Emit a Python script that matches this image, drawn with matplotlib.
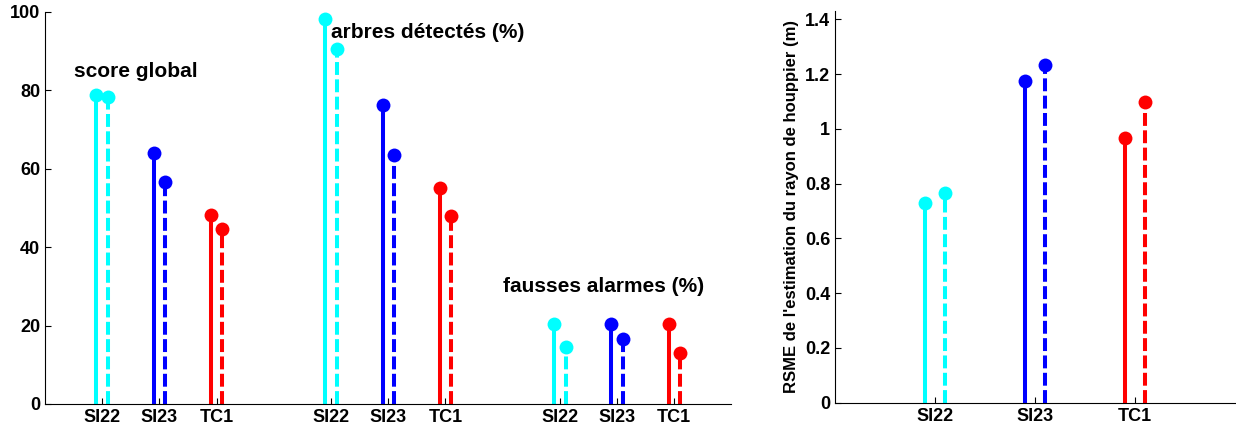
import numpy as np
import matplotlib
matplotlib.use("Agg")
import matplotlib.pyplot as plt

plt.rcParams['font.family'] = ['Liberation Sans', 'DejaVu Sans']
plt.rcParams['font.weight'] = 'bold'

# data
methods = ["SI22", "SI23", "TC1"]
colors = ["#00ffff", "#0000ff", "#ff0000"]
groups = ["score global", "arbres détectés (%)", "fausses alarmes (%)"]
group_pos = [np.array([1, 2, 3]), np.array([5, 6, 7]), np.array([9, 10, 11])]

# solid (first) and dashed (second) stems, one list per group
solid_vals = [[78.7, 64.0, 48.2], [98.3, 76.2, 55.0], [20.5, 20.5, 20.5]]
dashed_vals = [[78.3, 56.6, 44.7], [90.6, 63.6, 47.9], [14.6, 16.6, 13.0]]
label_xy = [(0.5, 84.8), (5.0, 94.8), (8.0, 29.9)]

rmse_pos = np.array([1, 2, 3])
rmse_solid = [0.728, 1.175, 0.966]
rmse_dashed = [0.767, 1.232, 1.099]

off = 0.1
lw = 2.9
ms = 10


def stem(ax, x, y, color, dashed):
    ls = (0, (3.2, 1.1)) if dashed else '-'
    ax.vlines(x, 0, y, colors=color, linewidth=lw, linestyles=ls)
    ax.plot([x], [y], 'o', color=color, markersize=ms, markeredgewidth=0)


def style(ax):
    ax.spines['top'].set_visible(False)
    ax.spines['right'].set_visible(False)
    ax.tick_params(direction='in', length=4, labelsize=13, width=0.8)
    for lab in ax.get_xticklabels() + ax.get_yticklabels():
        lab.set_fontweight('bold')


fig = plt.figure(figsize=(12.36, 4.29), dpi=100)
ax1 = fig.add_axes([0.0364, 0.0583, 0.5554, 0.9138])
ax2 = fig.add_axes([0.6756, 0.0613, 0.3236, 0.913])

for g in range(3):
    for i in range(3):
        x = group_pos[g][i]
        stem(ax1, x - off, solid_vals[g][i], colors[i], False)
        stem(ax1, x + off, dashed_vals[g][i], colors[i], True)
    ax1.text(label_xy[g][0], label_xy[g][1], groups[g], fontsize=15,
             fontweight='bold', va='center', ha='left')

ax1.set_xlim(0, 12)
ax1.set_ylim(0, 100)
ax1.set_xticks(np.concatenate(group_pos))
ax1.set_xticklabels(methods * 3)
ax1.set_yticks([0, 20, 40, 60, 80, 100])
style(ax1)

for i in range(3):
    stem(ax2, rmse_pos[i] - off, rmse_solid[i], colors[i], False)
    stem(ax2, rmse_pos[i] + off, rmse_dashed[i], colors[i], True)

ax2.set_xlim(0, 4)
ax2.set_ylim(0, 1.43)
ax2.set_xticks(rmse_pos)
ax2.set_xticklabels(methods)
ax2.set_yticks([0, 0.2, 0.4, 0.6, 0.8, 1.0, 1.2, 1.4])
ax2.set_yticklabels(["0", "0.2", "0.4", "0.6", "0.8", "1", "1.2", "1.4"])
ax2.set_ylabel("RSME de l'estimation du rayon de houppier (m)",
               fontsize=12, fontweight='bold', labelpad=4)
style(ax2)

fig.savefig("out.png", dpi=100)
